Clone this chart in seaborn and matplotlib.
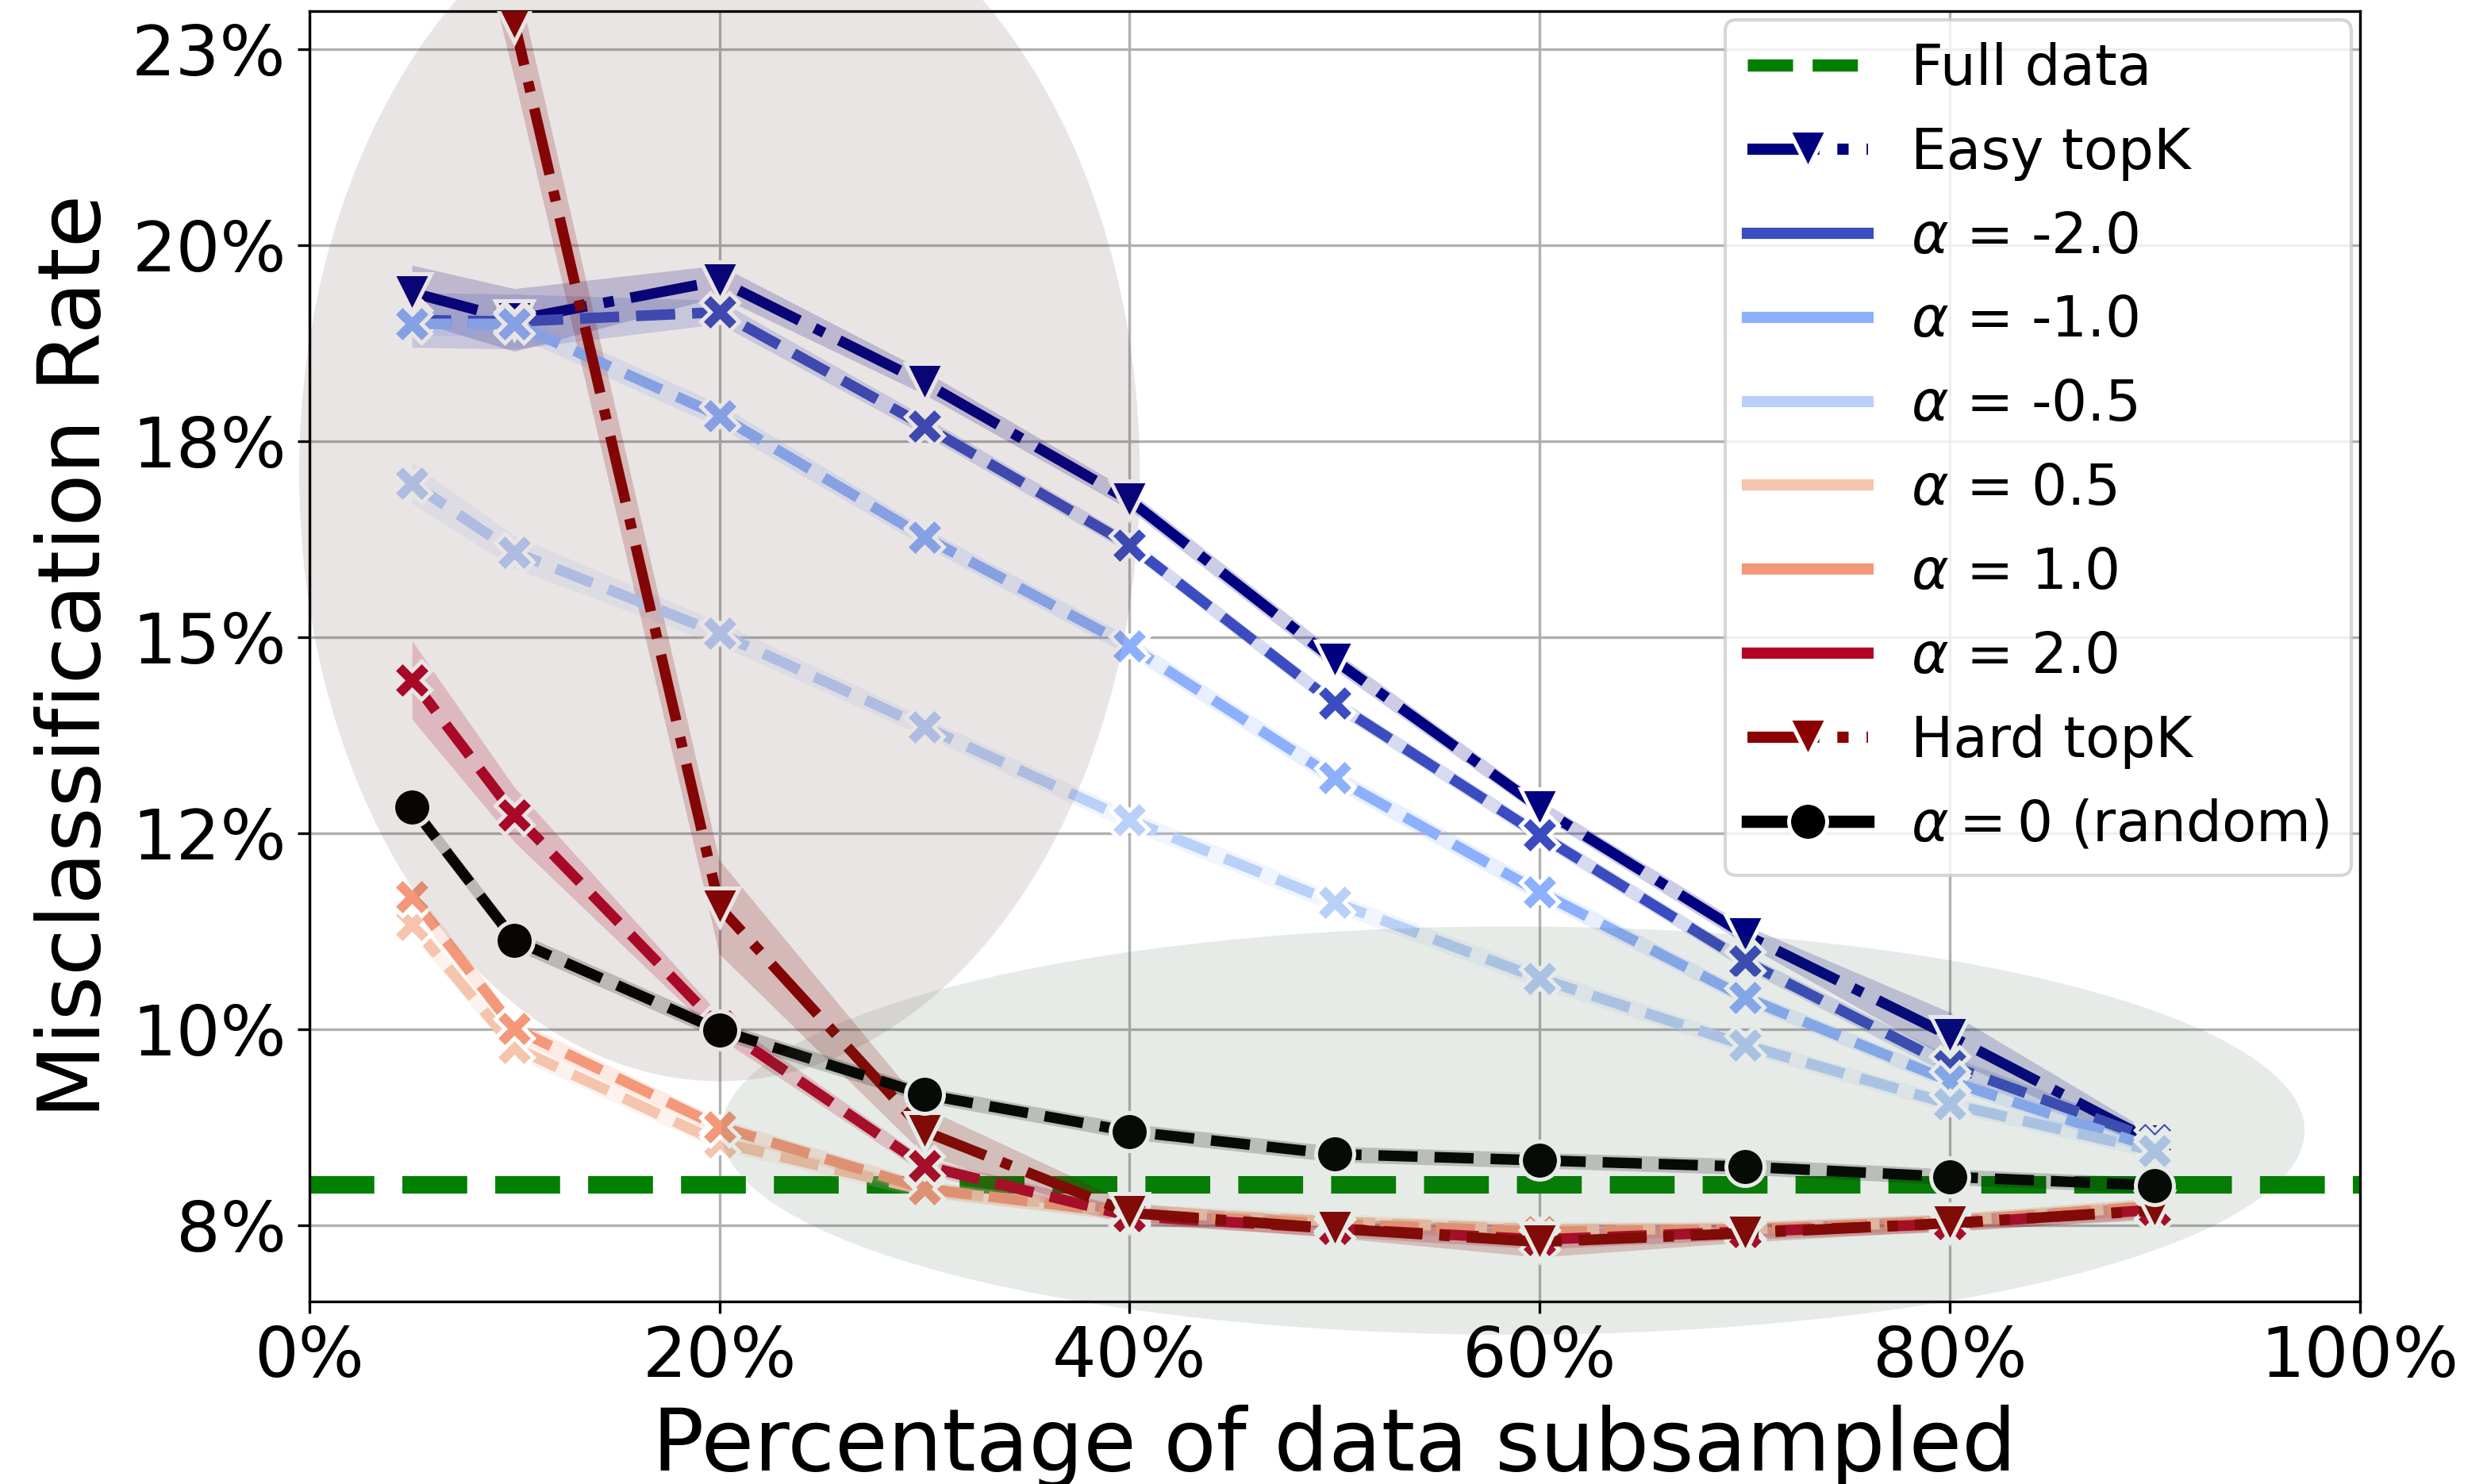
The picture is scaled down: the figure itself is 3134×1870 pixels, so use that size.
import numpy as np
import pandas as pd
import matplotlib
matplotlib.use("Agg")
import matplotlib.pyplot as plt
import matplotlib.colors as mcolors
from matplotlib.lines import Line2D
from matplotlib.patches import Ellipse
import seaborn as sns

# ---- data (misclassification rate in %, vs fraction of data kept) ----
fractions = [0.05, 0.1, 0.2, 0.3, 0.4, 0.5, 0.6, 0.7, 0.8, 0.9]

full_data_rate = 8.02

easy_topk = [19.40, 19.05, 19.55, 18.25, 16.75, 14.71, 12.83, 11.21, 9.92, 8.56]
easy_topk_err = [0.35, 0.40, 0.20, 0.15, 0.12, 0.12, 0.10, 0.12, 0.30, 0.10]

hard_topk = [28.50, 22.84, 11.56, 8.70, 7.66, 7.46, 7.29, 7.40, 7.53, 7.69]
hard_topk_err = [1.00, 0.70, 0.60, 0.30, 0.12, 0.12, 0.20, 0.12, 0.10, 0.12]

random_rates = [12.84, 11.14, 9.99, 9.17, 8.70, 8.41, 8.33, 8.25, 8.12, 8.01]
random_err = [0.12, 0.12, 0.11, 0.10, 0.10, 0.10, 0.10, 0.10, 0.10, 0.10]

alpha_values = [-2.0, -1.0, -0.5, 0.5, 1.0, 2.0]
rate_alpha_m2 = [19.05, 19.03, 19.15, 17.70, 16.18, 14.16, 12.48, 10.87, 9.54, 8.59]
rate_alpha_m1 = [19.00, 19.00, 17.83, 16.28, 14.89, 13.21, 11.75, 10.41, 9.34, 8.49]
rate_alpha_m05 = [16.97, 16.09, 15.05, 13.86, 12.67, 11.62, 10.65, 9.80, 9.05, 8.45]
rate_alpha_p05 = [11.34, 9.77, 8.56, 7.95, 7.68, 7.55, 7.45, 7.45, 7.55, 7.75]
rate_alpha_p1 = [11.69, 10.01, 8.76, 7.97, 7.65, 7.52, 7.42, 7.45, 7.55, 7.75]
rate_alpha_p2 = [14.46, 12.74, 10.04, 8.26, 7.62, 7.46, 7.32, 7.42, 7.52, 7.70]
err_alpha_m2 = [0.35, 0.35, 0.15, 0.12, 0.10, 0.10, 0.10, 0.10, 0.12, 0.10]
err_alpha_m1 = [0.15, 0.15, 0.15, 0.12, 0.12, 0.12, 0.12, 0.10, 0.10, 0.10]
err_alpha_m05 = [0.26, 0.21, 0.15, 0.12, 0.12, 0.12, 0.12, 0.10, 0.10, 0.10]
err_alpha_p05 = [0.15, 0.12, 0.10, 0.10, 0.10, 0.10, 0.10, 0.10, 0.10, 0.10]
err_alpha_p1 = [0.15, 0.12, 0.10, 0.10, 0.10, 0.10, 0.10, 0.10, 0.10, 0.10]
err_alpha_p2 = [0.50, 0.35, 0.15, 0.10, 0.10, 0.10, 0.12, 0.10, 0.10, 0.10]

alpha_rates = [rate_alpha_m2, rate_alpha_m1, rate_alpha_m05,
               rate_alpha_p05, rate_alpha_p1, rate_alpha_p2]
alpha_errs = [err_alpha_m2, err_alpha_m1, err_alpha_m05,
              err_alpha_p05, err_alpha_p1, err_alpha_p2]

x_ticks = [0.0, 0.2, 0.4, 0.6, 0.8, 1.0]
x_tick_labels = ["0%", "20%", "40%", "60%", "80%", "100%"]
y_ticks = [0.075, 0.100, 0.125, 0.150, 0.175, 0.200, 0.225]
y_tick_labels = ["8%", "10%", "12%", "15%", "18%", "20%", "23%"]

# ---- styling per method ----
cmap = plt.get_cmap("coolwarm")
norm = mcolors.Normalize(vmin=-2.0, vmax=2.0)
alpha_labels = [rf"$\alpha$ = {a}" for a in alpha_values]
easy_label, hard_label, random_label = "Easy topK", "Hard topK", r"$\alpha=0$ (random)"

DASHED = (3.7, 1.6)
DASHDOT = (6.4, 1.6, 1.0, 1.6)
MS = 11.5

order = [easy_label] + alpha_labels + [hard_label, random_label]
palette = {easy_label: "navy", hard_label: "darkred", random_label: "black"}
dashes = {easy_label: DASHDOT, hard_label: DASHDOT, random_label: DASHED}
markers = {easy_label: "v", hard_label: "v", random_label: "o"}
for a, lab in zip(alpha_values, alpha_labels):
    palette[lab] = cmap(norm(a))
    dashes[lab] = DASHED
    markers[lab] = "X"

series = {easy_label: (easy_topk, easy_topk_err),
          hard_label: (hard_topk, hard_topk_err),
          random_label: (random_rates, random_err)}
for lab, r, e in zip(alpha_labels, alpha_rates, alpha_errs):
    series[lab] = (r, e)

rows = []
for lab in order:
    r, e = series[lab]
    for f, v, d in zip(fractions, r, e):
        rows.append({"frac": f, "rate": v / 100, "err": d / 100, "method": lab})
df = pd.DataFrame(rows)

# ---- figure ----
fig = plt.figure(figsize=(3134 / 300, 1870 / 300), dpi=300)
ax = fig.add_axes([0.1244, 0.1230, 0.8245, 0.8695])

ax.axhline(full_data_rate / 100, color="green", lw=5.3,
           dashes=DASHED, zorder=2)

for lab in order:
    sub = df[df["method"] == lab]
    ax.fill_between(sub["frac"], sub["rate"] - sub["err"], sub["rate"] + sub["err"],
                    color=palette[lab], alpha=0.2, linewidth=0, zorder=2)

sns.lineplot(data=df, x="frac", y="rate", hue="method", style="method",
             hue_order=order, style_order=order, palette=palette,
             dashes=dashes, markers=markers, markersize=MS, linewidth=3.2,
             markeredgecolor="white", markeredgewidth=1.2,
             errorbar=None, legend=False, ax=ax, zorder=3)

# highlighted regions
ax.add_patch(Ellipse((0.20, 0.1709), width=0.41, height=0.155,
                     facecolor="#582f2f", alpha=0.12, edgecolor="none",
                     zorder=4, clip_on=False))
ax.add_patch(Ellipse((0.587, 0.0871), width=0.772, height=0.0521,
                     facecolor="#3f613f", alpha=0.12, edgecolor="none",
                     zorder=4, clip_on=False))

ax.set_xlim(0, 1)
ax.set_ylim(0.0653, 0.2299)
ax.set_xticks(x_ticks, x_tick_labels)
ax.set_yticks(y_ticks, y_tick_labels)
ax.tick_params(labelsize=21)
ax.grid(True, color="#b0b0b0", lw=0.8, zorder=0)
ax.set_axisbelow(True)
ax.set_xlabel("Percentage of data subsampled", fontsize=26)
ax.set_ylabel("Misclassification Rate", fontsize=26)
for s in ax.spines.values():
    s.set_color("black")

# legend
handles = [Line2D([], [], color="green", lw=3.7, dashes=DASHED)]
labels = ["Full data"]
handles.append(Line2D([], [], color="navy", lw=3.4, dashes=DASHDOT, marker="v",
                      markersize=MS, markeredgecolor="white", markeredgewidth=1.2))
labels.append(easy_label)
for lab in alpha_labels:
    handles.append(Line2D([], [], color=palette[lab], lw=3.4))
    labels.append(lab)
handles.append(Line2D([], [], color="darkred", lw=3.4, dashes=DASHDOT, marker="v",
                      markersize=MS, markeredgecolor="white", markeredgewidth=1.2))
labels.append(hard_label)
handles.append(Line2D([], [], color="black", lw=3.7, marker="o",
                      markersize=MS, markeredgecolor="white", markeredgewidth=1.2))
labels.append(random_label)
leg = ax.legend(handles, labels, loc="upper right", fontsize=17,
                handlelength=2.15, handletextpad=0.75, labelspacing=0.52,
                borderaxespad=0.15)
leg.set_zorder(10)

fig.savefig("out.png", dpi=300)
